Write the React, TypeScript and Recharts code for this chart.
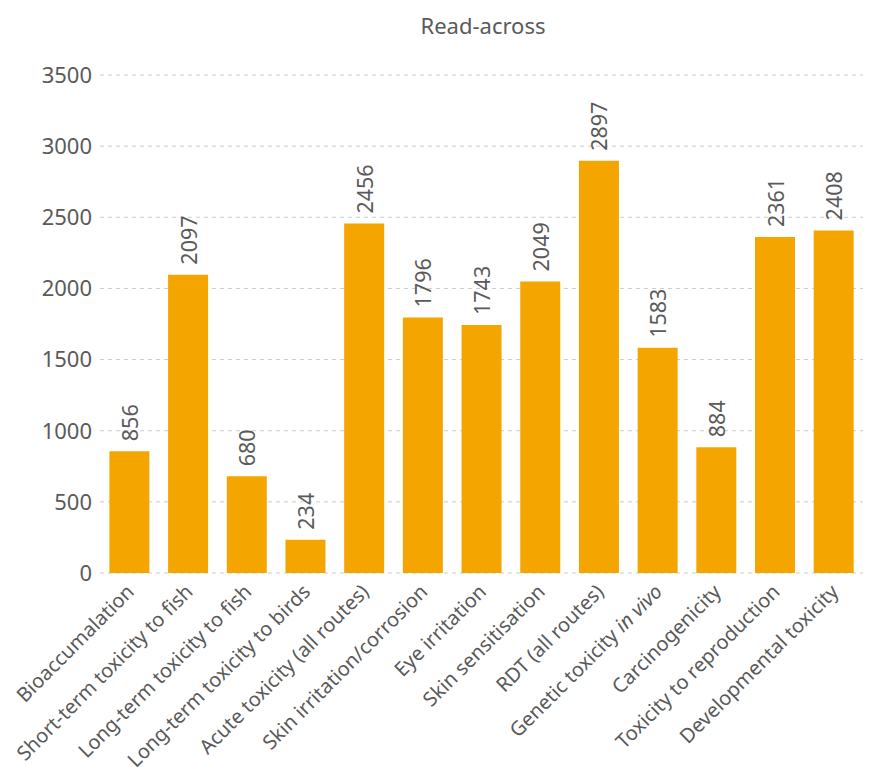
import React from 'react';
import { BarChart, Bar, XAxis, YAxis, CartesianGrid, LabelList } from 'recharts';

const categories = [
  'Bioaccumalation',
  'Short-term toxicity to fish',
  'Long-term toxicity to fish',
  'Long-term toxicity to birds',
  'Acute toxicity (all routes)',
  'Skin irritation/corrosion',
  'Eye irritation',
  'Skin sensitisation',
  'RDT (all routes)',
  'Genetic toxicity in vivo',
  'Carcinogenicity',
  'Toxicity to reproduction',
  'Developmental toxicity',
];
const counts = [856, 2097, 680, 234, 2456, 1796, 1743, 2049, 2897, 1583, 884, 2361, 2408];
const yTicks = [0, 500, 1000, 1500, 2000, 2500, 3000, 3500];

const data = categories.map((name, i) => ({ name, value: counts[i] }));

const FONT = '"Noto Sans", "Open Sans", sans-serif';
const GREY = '#5a5a5a';

// category tick, rotated 45deg, with "in vivo" set in italics
const CategoryTick = ({ x, y, payload }: any) => {
  const label: string = payload.value;
  const italic = label.endsWith(' in vivo');
  const tx = x + 6;
  const ty = y + 12;
  return (
    <text
      x={tx}
      y={ty}
      transform={`rotate(-45, ${tx}, ${ty})`}
      textAnchor="end"
      fill={GREY}
      fontSize={20}
      fontFamily={FONT}
    >
      {italic ? (
        <>
          <tspan>{label.replace(' in vivo', ' ')}</tspan>
          <tspan fontStyle="italic">in vivo</tspan>
        </>
      ) : (
        label
      )}
    </text>
  );
};

const ValueLabel = ({ x, y, width, value }: any) => {
  const cx = x + width / 2;
  const cy = y - 10;
  return (
    <text
      x={cx}
      y={cy}
      transform={`rotate(-90, ${cx}, ${cy})`}
      textAnchor="start"
      dominantBaseline="central"
      fill={GREY}
      fontSize={21.5}
      fontFamily={FONT}
    >
      {value}
    </text>
  );
};

export default function App() {
  return (
    <div style={{ position: 'absolute', left: 0, top: 0, width: 869, height: 767, background: '#fff' }}>
      <div
        style={{
          position: 'absolute',
          left: 0,
          top: 10,
          width: 966,
          textAlign: 'center',
          fontFamily: FONT,
          fontSize: 22,
          color: GREY,
        }}
      >
        Read-across
      </div>
      <BarChart
        width={869}
        height={767}
        data={data}
        margin={{ top: 75, right: 6, bottom: 0, left: 0 }}
        barCategoryGap="16%"
      >
        <CartesianGrid vertical={false} stroke="#cccccc" strokeDasharray="4 4" />
        <XAxis
          dataKey="name"
          axisLine={false}
          tickLine={false}
          interval={0}
          tick={<CategoryTick />}
          height={194}
        />
        <YAxis
          width={100}
          domain={[0, 3500]}
          ticks={yTicks}
          axisLine={false}
          tickLine={false}
          tickMargin={2}
          tick={{ fill: GREY, fontSize: 22, fontFamily: FONT }}
        />
        <Bar dataKey="value" fill="#F5A500" isAnimationActive={false}>
          <LabelList dataKey="value" content={<ValueLabel />} />
        </Bar>
      </BarChart>
    </div>
  );
}
